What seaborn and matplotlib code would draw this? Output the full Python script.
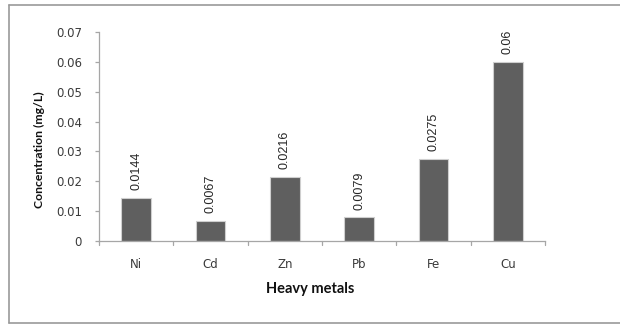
import matplotlib
matplotlib.use("Agg")
import matplotlib.pyplot as plt
import seaborn as sns
import pandas as pd
from matplotlib.lines import Line2D

metals = ["Ni", "Cd", "Zn", "Pb", "Fe", "Cu"]
concentration = [0.0144, 0.0067, 0.0216, 0.0079, 0.0275, 0.06]
value_labels = ["0.0144", "0.0067", "0.0216", "0.0079", "0.0275", "0.06"]
y_ticks = [0, 0.01, 0.02, 0.03, 0.04, 0.05, 0.06, 0.07]
y_tick_labels = ["0", "0.01", "0.02", "0.03", "0.04", "0.05", "0.06", "0.07"]

df = pd.DataFrame({"metal": metals, "conc": concentration})

sns.set_theme(style="white")
plt.rcParams["font.family"] = ["DejaVu Sans"]

fig = plt.figure(figsize=(6.2, 3.33), dpi=100)
ax = fig.add_axes([99 / 620, 1 - 241 / 333, 446 / 620, 209 / 333])

sns.barplot(data=df, x="metal", y="conc", color="#5f5f5f", width=0.4,
            saturation=1, edgecolor="#cfcfcf", linewidth=0.8, ax=ax)

ax.set_ylim(0, 0.07)
ax.set_xlim(-0.5, len(metals) - 0.5)
ax.set_yticks(y_ticks)
ax.set_yticklabels(y_tick_labels)

for i, (v, s) in enumerate(zip(concentration, value_labels)):
    ax.annotate(s, (i, v), xytext=(0, 5.5), textcoords="offset points",
                rotation=90, ha="center", va="bottom", fontsize=9,
                family="Liberation Sans", color="#262626")

for side in ["top", "right"]:
    ax.spines[side].set_visible(False)
for side in ["left", "bottom"]:
    ax.spines[side].set_color("#a6a6a6")
    ax.spines[side].set_linewidth(0.9)

ax.tick_params(axis="y", which="major", direction="out", length=3,
               color="#a6a6a6", width=0.9, labelsize=8.5, labelcolor="#3a3a3a",
               left=True, pad=9.4)
ax.tick_params(axis="x", bottom=False, labelsize=8.5, labelcolor="#3a3a3a",
               pad=6)

# category boundary ticks along the x axis
for b in range(len(metals) + 1):
    ax.plot([b - 0.5, b - 0.5], [0, -0.0015], color="#a6a6a6", lw=0.9,
            clip_on=False)

ax.set_xlabel("Heavy metals", fontsize=10.5, fontweight="bold", family="Lato",
              color="#111111", va="center")
ax.xaxis.set_label_coords((310 - 99) / 446, (241 - 289) / 209)
ax.set_ylabel("Concentration (mg/L)", fontsize=8.8, fontweight="bold",
              family="Lato", color="#111111", va="center")
ax.yaxis.set_label_coords((39 - 99) / 446, (241 - 150) / 209)

# chart frame
frame = dict(transform=fig.transFigure, color="#9a9a9a", lw=1.2)
fig.add_artist(Line2D([9 / 620, 9 / 620], [1 - 5 / 333, 1 - 323 / 333], **frame))
fig.add_artist(Line2D([9 / 620, 1.0], [1 - 5 / 333, 1 - 5 / 333], **frame))
fig.add_artist(Line2D([9 / 620, 1.0], [1 - 323 / 333, 1 - 323 / 333], **frame))

fig.savefig("out.png", dpi=100)
